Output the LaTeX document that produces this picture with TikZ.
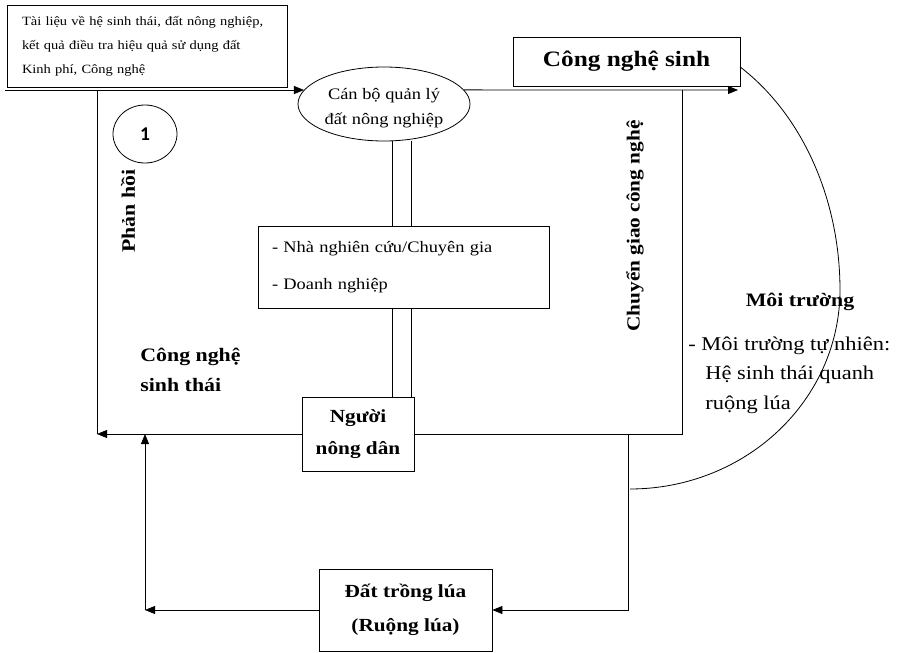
\documentclass[tikz,border=0pt]{standalone}
\usepackage{fontspec}
\setmainfont{Liberation Serif}[FakeStretch=1.15]
\newfontfamily\numfont{Carlito}
\usetikzlibrary{arrows.meta,shapes.geometric}
\newcommand\fsz[2]{\fontsize{#1}{#2}\selectfont}

\begin{document}
\begin{tikzpicture}[x=1pt,y=-1pt,line width=0.8pt,
  box/.style={draw,rectangle,inner sep=0pt},
  arr/.style={-{Triangle[length=10pt,width=8pt]}}]
\useasboundingbox (0,0) rectangle (897,653);

% ---- boxes and ellipses ----
\node[box,minimum width=280,minimum height=82,text width=250,align=left,
      font=\fsz{12.6}{24}] (docs) at (147,46)
  {Tài liệu về hệ sinh thái, đất nông nghiệp,\\kết quả điều tra hiệu quả sử dụng đất\\Kinh phí, Công nghệ};

\node[draw,ellipse,minimum width=172,minimum height=74,inner sep=0pt] (ell) at (384,104) {};
\node[align=center,inner sep=0pt,font=\fsz{16}{25}] (ellText) at (384,108)
  {Cán bộ quản lý\\đất nông nghiệp};

\node[box,minimum width=227,minimum height=49,font=\bfseries\fsz{22}{26}] (bio)
  at (626.5,61.5) {Công nghệ sinh};

\node[draw,ellipse,minimum width=64,minimum height=58,inner sep=0pt,
      font=\numfont\bfseries\fsz{19.5}{20}] (one) at (145,134) {1};

\node[box,minimum width=291,minimum height=82,text width=263,align=left,
      font=\fsz{16}{37}] (experts) at (403.5,267)
  {- Nhà nghiên cứu/Chuyên gia\\- Doanh nghiệp};

\node[box,minimum width=112,minimum height=74,align=center,
      font=\bfseries\fsz{18.5}{32}] (farmer) at (358,434) {Người\\nông dân};

\node[box,minimum width=173,minimum height=82,align=center,
      font=\bfseries\fsz{18.5}{34}] (rice) at (405.5,610) {Đất trồng lúa\\(Ruộng lúa)};

% ---- free labels ----
\node[rotate=90,font=\bfseries\fsz{19}{20}] (fbLabel) at (128,211) {Phản hồi};
\node[rotate=90,font=\bfseries\fsz{18.5}{20}] (trLabel) at (635,226) {Chuyển giao công nghệ};
\node[anchor=west,align=left,inner sep=0pt,font=\bfseries\fsz{19}{30}] (eco)
  at (140,370) {Công nghệ\\sinh thái};
\node[font=\bfseries\fsz{19}{20}] (envT) at (800,302) {Môi trường};
\node[anchor=west,align=left,inner sep=0pt,font=\fsz{19.5}{29.5}] (envD) at (688,375)
  {- Môi trường tự nhiên:\\\hspace*{17pt}Hệ sinh thái quanh\\\hspace*{17pt}ruộng lúa};

% ---- helper coordinates ----
\coordinate (inL) at (5,90);
\coordinate (fbTop) at (97,90);
\coordinate (outR) at (738,90);
\coordinate (trTop) at (682,90);
\coordinate (rB) at (628,0);
\coordinate (lB) at (145,0);
\coordinate (dl) at (392,0);
\coordinate (dr) at (411,0);

% ---- connectors ----
\draw[arr] (inL) -- (inL -| ell.170);
\draw[arr] (ell.10) -- (outR);
\draw (fbTop) -- (fbTop |- farmer.west);
\draw[arr] (farmer.west) -- (farmer.west -| fbTop);
\draw (trTop) |- (farmer.east);
\draw[arr] (rB |- farmer.east) |- (rice.east);
\draw[arr] (rice.west) -- (rice.west -| lB);
\draw[arr] (rice.west -| lB) -- (lB |- farmer.west);

% double link between the officials, experts and farmers
\draw (dl |- ell.south) -- (dl |- experts.north);
\draw (dr |- ell.south) -- (dr |- experts.north);
\draw (dl |- experts.south) -- (dl |- farmer.north);
\draw (dr |- experts.south) -- (dr |- farmer.north);

% environment arc
\draw[line width=0.8pt]
  plot[domain=58.4:0,samples=40,smooth] ({630+210*cos(\x)},{290-262*sin(\x)})
  -- plot[domain=0:90,samples=40,smooth] ({630+210*cos(\x)},{290+199*sin(\x)});
\end{tikzpicture}
\end{document}
